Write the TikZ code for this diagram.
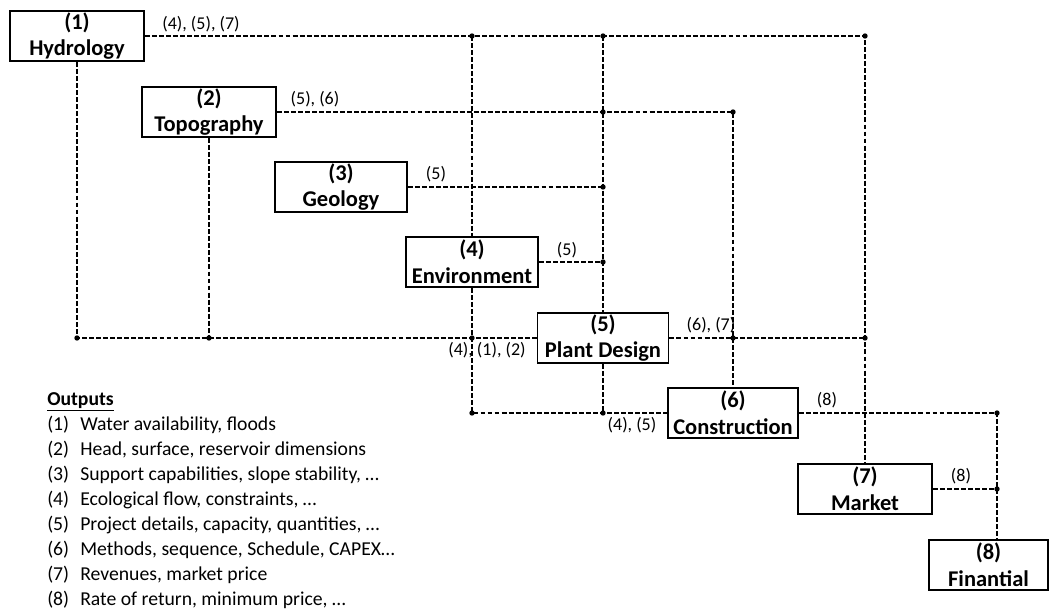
\documentclass[tikz,border=0pt]{standalone}
\usepackage{fontspec}
\setmainfont{Carlito}
\usepackage{tikz}
\usetikzlibrary{calc}

\newcommand{\junc}[1]{\fill (#1) circle (1.9pt);}

\begin{document}
\begin{tikzpicture}[x=0.025cm, y=-0.025cm,
  block/.style={draw, line width=1.3pt, align=center, inner sep=0pt, minimum height=1.25cm,
    font=\fontsize{16}{19}\selectfont\bfseries},
  link/.style={line width=1.4pt, dash pattern=on 3.5pt off 1.5pt},
  lbl/.style={anchor=base, inner sep=0pt, font=\fontsize{12.8}{15}\selectfont},
  legend/.style={anchor=base west, inner sep=0pt, font=\fontsize{14}{16}\selectfont}]
\useasboundingbox (0,0) rectangle (1052,612);

% studies
\node[block, minimum width=3.35cm] (hyd) at (77,36) {(1)\\Hydrology};
\node[block, minimum width=3.35cm] (topo) at (209,112) {(2)\\Topography};
\node[block, minimum width=3.3cm] (geo) at (341,187) {(3)\\Geology};
\node[block, minimum width=3.3cm] (env) at (472,262) {(4)\\Environment};
\node[block, minimum width=3.275cm] (pd) at (603,338) {(5)\\Plant Design};
\node[block, minimum width=3.25cm] (con) at (733,413) {(6)\\Construction};
\node[block, minimum width=3.35cm] (mkt) at (865,489) {(7)\\Market};
\node[block, minimum width=2.975cm] (fin) at (988.5,565) {(8)\\Finantial};
\coordinate (fj) at (997,413);

% outputs of (1)
\draw[link] (hyd.east) -- (hyd.east -| mkt.north) -- (mkt.north);
\draw[link] (hyd.east -| env.north) -- (env.north);
\draw[link] (hyd.east -| pd.north) -- (pd.north);
\draw[link] (hyd.south) -- (hyd.south |- pd.west) -- (pd.west);
\junc{hyd.east -| env.north} \junc{hyd.east -| pd.north} \junc{hyd.east -| mkt.north}
\junc{hyd.south |- pd.west}

% outputs of (2), (3), (4)
\draw[link] (topo.east) -- (topo.east -| con.north) -- (con.north);
\draw[link] (topo.south) -- (topo.south |- pd.west);
\draw[link] (geo.east) -- (geo.east -| pd.north);
\draw[link] (env.east) -- (env.east -| pd.north);
\draw[link] (env.south) -- (env.south |- con.west) -- (con.west);
\junc{topo.east -| pd.north} \junc{topo.east -| con.north} \junc{topo.south |- pd.west}
\junc{geo.east -| pd.north} \junc{env.east -| pd.north}
\junc{env.south |- pd.west} \junc{env.south |- con.west}

% outputs of (5), (6), (7)
\draw[link] (pd.south) -- (pd.south |- con.west);
\draw[link] (pd.east) -- (pd.east -| mkt.north);
\draw[link] (con.east) -- (con.east -| fj) -- (fj |- fin.north);
\draw[link] (mkt.east) -- (mkt.east -| fj);
\junc{pd.south |- con.west} \junc{pd.east -| con.north} \junc{pd.east -| mkt.north}
\junc{con.east -| fj} \junc{mkt.east -| fj}

% labels
\node[lbl] (l1) at (201,29) {(4), (5), (7)};
\node[lbl] (l2) at (315,104) {(5), (6)};
\node[lbl] (l3) at (436,179) {(5)};
\node[lbl] (l4) at (567,255) {(5)};
\node[lbl] (l5) at (711,330) {(6), (7)};
\node[lbl] (l6) at (487,355) {(4), (1), (2)};
\node[lbl] (l7) at (632,430) {(4), (5)};
\node[lbl] (l8) at (827,405) {(8)};
\node[lbl] (l9) at (961,481) {(8)};

% legend
\node[legend, font=\fontsize{14}{16}\selectfont\bfseries] (outs) at (47,405) {\underline{Outputs}};
\foreach \t [count=\i] in {{Water availability, floods}, {Head, surface, reservoir dimensions},
  {Support capabilities, slope stability, …}, {Ecological flow, constraints, …},
  {Project details, capacity, quantities, …}, {Methods, sequence, Schedule, CAPEX…},
  {Revenues, market price}, {Rate of return, minimum price, …}} {
  \node[legend] (num\i) at (47,{405+25*\i}) {(\i)};
  \node[legend] (out\i) at (80,{405+25*\i}) {\t};
}
\end{tikzpicture}
\end{document}
